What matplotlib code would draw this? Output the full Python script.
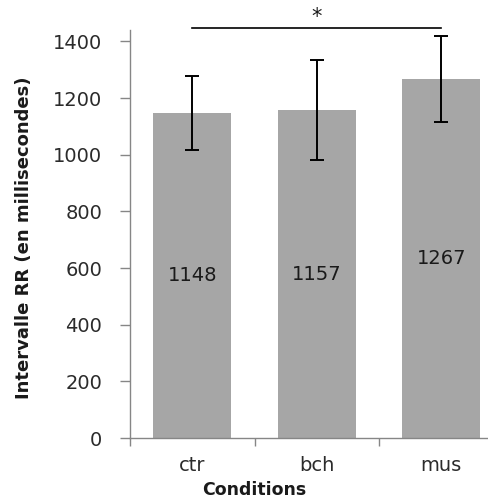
import matplotlib
matplotlib.use('Agg')
import matplotlib.pyplot as plt

conditions = ['ctr', 'bch', 'mus']
means = [1148, 1157, 1267]
errors = [130, 176, 152]
y_ticks = [0, 200, 400, 600, 800, 1000, 1200, 1400]
sig_level = 1446

BAR_GREY = '#a6a6a6'
AXIS_GREY = '#868686'
TEXT_DARK = '#2b2b2b'

plt.rcParams['font.family'] = ['DejaVu Sans']

fig = plt.figure(figsize=(4.88, 4.98), dpi=100)
ax = fig.add_axes([130 / 488, 60 / 498, 373.5 / 488, 408 / 498])

x = list(range(len(conditions)))
ax.bar(x, means, width=0.63, color=BAR_GREY, zorder=2)
ax.errorbar(x, means, yerr=errors, fmt='none', ecolor='black',
            elinewidth=1.4, capsize=5.2, capthick=1.4, zorder=3)

for xi, m in zip(x, means):
    ax.text(xi, m / 2, str(m), ha='center', va='center',
            fontsize=14, color='#1a1a1a', zorder=4)

# significance bar between ctr and mus
ax.plot([0, 2], [sig_level, sig_level], color='black', lw=1.2, clip_on=False)
ax.text(1, sig_level + 5, '*', ha='center', va='bottom', fontsize=15,
        color='#1a1a1a', clip_on=False)

ax.set_xlim(-0.5, 2.5)
ax.set_ylim(0, 1440)
ax.set_yticks(y_ticks)
ax.set_xticks(x)
ax.set_xticklabels(conditions)
ax.set_xticks([-0.5, 0.5, 1.5, 2.5], minor=True)

ax.tick_params(axis='x', which='major', length=0, pad=13, labelsize=14,
               labelcolor=TEXT_DARK)
ax.tick_params(axis='x', which='minor', length=6, width=1, color=AXIS_GREY,
               direction='out')
ax.tick_params(axis='y', length=7, width=1, color=AXIS_GREY, pad=13,
               labelsize=14, labelcolor=TEXT_DARK, direction='out')

for side in ('top', 'right'):
    ax.spines[side].set_visible(False)
for side in ('left', 'bottom'):
    ax.spines[side].set_color(AXIS_GREY)
    ax.spines[side].set_linewidth(1)

ax.set_ylabel('Intervalle RR (en millisecondes)', fontsize=13,
              fontweight='bold', color='#1a1a1a')
ax.yaxis.set_label_coords(-97 / 373.5, 0.491)
ax.set_xlabel('Conditions', fontsize=12.5, fontweight='bold', color='#1a1a1a')
ax.xaxis.set_label_coords(124.5 / 373.5, -43 / 408)

fig.savefig('out.png', dpi=100)
